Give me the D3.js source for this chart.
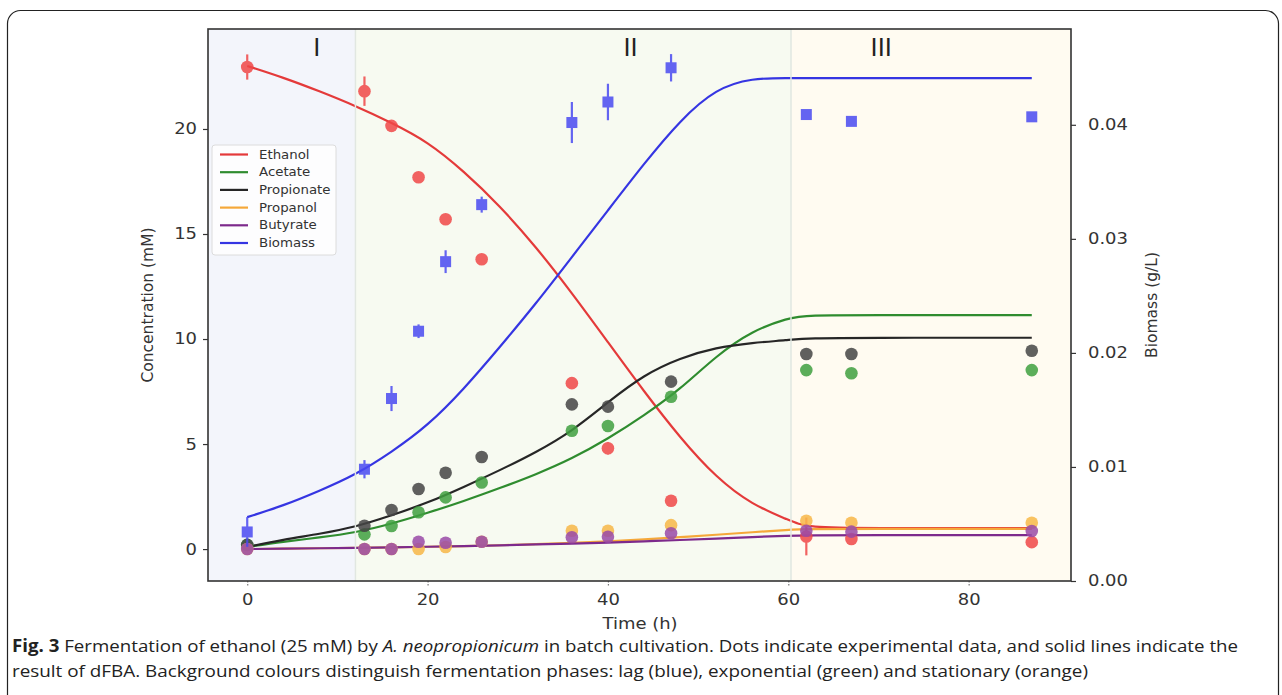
<!DOCTYPE html>
<html>
<head>
<meta charset="utf-8">
<title>Fermentation of ethanol by A. neopropionicum</title>
<script src="https://cdn.jsdelivr.net/npm/d3@7"></script>
<style>
  body { margin: 0; background: #fff; }
  svg text { font-family: "DejaVu Sans", sans-serif; fill: #333; }
</style>
</head>
<body>
<script>
// ---- experimental points (h, mM / g/L) ----
var hours = [0, 13, 16, 19, 22, 26, 36, 40, 47, 62, 67, 87];
var ethanol    = [22.95, 21.8, 20.15, 17.7, 15.7, 13.8, 7.9, 4.8, 2.3, 0.6, 0.48, 0.33];
var ethanolErr = [0.6, 0.7, 0.25, 0.2, 0.2, 0.2, 0.25, 0.3, 0.25, 0.9, 0.15, 0.15];
var acetate    = [0.2, 0.7, 1.1, 1.75, 2.46, 3.17, 5.63, 5.86, 7.25, 8.52, 8.37, 8.52];
var acetateErr = [0, 0, 0, 0, 0, 0, 0, 0, 0.3, 0, 0, 0];
var propionate    = [0.2, 1.11, 1.86, 2.86, 3.63, 4.38, 6.89, 6.78, 7.97, 9.29, 9.29, 9.44];
var propionateErr = [0, 0, 0, 0, 0, 0, 0, 0.25, 0.2, 0, 0, 0];
var propanol   = [0.0, 0.0, 0.0, 0.0, 0.1, 0.35, 0.87, 0.87, 1.14, 1.35, 1.25, 1.25];
var butyrate   = [0.0, 0.0, 0.0, 0.35, 0.3, 0.35, 0.56, 0.59, 0.75, 0.87, 0.83, 0.86];
var biomass    = [0.0043, 0.0098, 0.0160, 0.0219, 0.0280, 0.0330, 0.0402, 0.0420, 0.0450, 0.0409, 0.0403, 0.0407];
var biomassErr = [0.0013, 0.0008, 0.0011, 0.0006, 0.0010, 0.0007, 0.0018, 0.0016, 0.0012, 0.0004, 0.0002, 0.0002];

// ---- dFBA result ----
var modelHours = [0, 4, 8, 12, 16, 20, 24, 28, 32, 36, 40, 44, 48, 52, 56, 60, 62, 70, 80, 87];
var ethanolModel    = [23.0, 22.45, 21.8, 21.1, 20.3, 19.4, 18.0, 16.35, 14.4, 12.2, 9.85, 7.5, 5.3, 3.4, 2.1, 1.4, 1.0, 1.0, 1.0, 1.0];
var acetateModel    = [0.1, 0.35, 0.55, 0.78, 1.2, 1.72, 2.28, 2.9, 3.55, 4.3, 5.25, 6.35, 7.6, 9.2, 10.4, 11.0, 11.14, 11.14, 11.14, 11.14];
var propionateModel = [0.1, 0.45, 0.72, 1.05, 1.6, 2.2, 2.95, 3.75, 4.6, 5.6, 7.0, 8.3, 9.1, 9.6, 9.82, 9.95, 10.05, 10.06, 10.06, 10.06];
var propanolModel   = [0, 0.02, 0.04, 0.06, 0.08, 0.11, 0.14, 0.18, 0.23, 0.29, 0.36, 0.46, 0.57, 0.68, 0.8, 0.92, 0.96, 0.96, 0.96, 0.96];
var butyrateModel   = [0, 0.02, 0.04, 0.06, 0.08, 0.11, 0.14, 0.18, 0.22, 0.26, 0.31, 0.37, 0.43, 0.5, 0.57, 0.64, 0.66, 0.66, 0.66, 0.66];
var biomassModel    = [0.0056, 0.0066, 0.0079, 0.0093, 0.0113, 0.0136, 0.0168, 0.0205, 0.0243, 0.0284, 0.0325, 0.0366, 0.0404, 0.0432, 0.0441, 0.0441, 0.0441, 0.0441, 0.0441, 0.0441];

// ---- phases ----
var phaseNames = ["I", "II", "III"];
var phaseEdges = [12, 60.3];       // h
var phaseLabelAt = [7.7, 42.5, 70.3];

var xTicks = [0, 20, 40, 60, 80];
var yTicks = [0, 5, 10, 15, 20];
var y2Ticks = [0, 0.01, 0.02, 0.03, 0.04];

var names = ["Ethanol", "Acetate", "Propionate", "Propanol", "Butyrate", "Biomass"];

// ---- drawing ----
var W = 1282, H = 695;
var SX = 1.16;   // the source figure is stretched a little horizontally

var svg = d3.select("body").append("svg")
    .attr("width", W)
    .attr("height", H);

var x  = d3.scaleLinear().domain([-4.35, 91.35]).range([208, 1071]);
var y  = d3.scaleLinear().domain([-1.52, 24.76]).range([581, 29]);
var y2 = d3.scaleLinear().domain([0, 0.0484]).range([581, 29]);

var plotL = x.range()[0], plotR = x.range()[1], plotT = y.range()[1], plotB = y.range()[0];

// outer frame of the figure
svg.append("rect")
    .attr("x", 7.5).attr("y", 10.5)
    .attr("width", 1271).attr("height", 720)
    .attr("rx", 13)
    .attr("fill", "none")
    .attr("stroke", "#222")
    .attr("stroke-width", 1.2);

// phase backgrounds
var phaseFill = ["#f3f5fb", "#f7faf1", "#fffbf1"];
var bounds = [plotL, x(phaseEdges[0]), x(phaseEdges[1]), plotR];
phaseNames.forEach(function(p, i) {
    svg.append("rect")
        .attr("x", bounds[i]).attr("y", plotT)
        .attr("width", bounds[i + 1] - bounds[i])
        .attr("height", plotB - plotT)
        .attr("fill", phaseFill[i]);
});

var series = [
    { obs: ethanol,    err: ethanolErr,    model: ethanolModel,    line: "#e43a3a", dot: "#f04848", y: y },
    { obs: acetate,    err: acetateErr,    model: acetateModel,    line: "#2f8c2f", dot: "#40a040", y: y },
    { obs: propionate, err: propionateErr, model: propionateModel, line: "#262626", dot: "#454545", y: y },
    { obs: propanol,   err: null,          model: propanolModel,   line: "#f5a83a", dot: "#f8b848", y: y },
    { obs: butyrate,   err: null,          model: butyrateModel,   line: "#7d2a8c", dot: "#9a4aa8", y: y },
    { obs: biomass,    err: biomassErr,    model: biomassModel,    line: "#3535e2", dot: "#4a4af2", y: y2 }
];

// model lines
series.forEach(function(s) {
    var line = d3.line()
        .x(function(d, i) { return x(modelHours[i]); })
        .y(function(d) { return s.y(d); })
        .curve(d3.curveBasis);
    svg.append("path")
        .datum(s.model)
        .attr("d", line)
        .attr("fill", "none")
        .attr("stroke", s.line)
        .attr("stroke-width", 2.2);
});

// error bars + markers
series.forEach(function(s, k) {
    var g = svg.append("g").attr("opacity", 0.85);
    if (s.err) {
        g.selectAll("line.err")
            .data(s.obs)
            .enter()
            .append("line")
            .filter(function(d, i) { return s.err[i] > 0; })
            .attr("x1", function(d, i) { return x(hours[i]); })
            .attr("x2", function(d, i) { return x(hours[i]); })
            .attr("y1", function(d, i) { return s.y(d + s.err[i]); })
            .attr("y2", function(d, i) { return s.y(d - s.err[i]); })
            .attr("stroke", s.dot)
            .attr("stroke-width", 2.2);
    }
    if (k == 5) {
        g.selectAll("rect")
            .data(s.obs)
            .enter()
            .append("rect")
            .attr("x", function(d, i) { return x(hours[i]) - 5.5; })
            .attr("y", function(d) { return s.y(d) - 5.5; })
            .attr("width", 11).attr("height", 11)
            .attr("fill", s.dot);
    } else {
        g.selectAll("circle")
            .data(s.obs)
            .enter()
            .append("circle")
            .attr("cx", function(d, i) { return x(hours[i]); })
            .attr("cy", function(d) { return s.y(d); })
            .attr("r", 6.3)
            .attr("fill", s.dot);
    }
});

// phase borders sit on top of the curves
phaseEdges.forEach(function(e) {
    svg.append("line")
        .attr("x1", x(e)).attr("x2", x(e))
        .attr("y1", plotT).attr("y2", plotB)
        .attr("stroke", "#e1e7e1")
        .attr("stroke-width", 1.5);
});

// phase labels
phaseNames.forEach(function(p, i) {
    svg.append("text")
        .attr("x", x(phaseLabelAt[i]))
        .attr("y", 56)
        .attr("text-anchor", "middle")
        .style("font-size", "24px")
        .style("fill", "#222")
        .text(p);
});

// axes
var xAxis = svg.append("g")
    .attr("transform", "translate(0," + plotB + ")")
    .call(d3.axisBottom(x).tickValues(xTicks).tickSize(5).tickPadding(8).tickFormat(d3.format("d")));
var yAxis = svg.append("g")
    .attr("transform", "translate(" + plotL + ",0)")
    .call(d3.axisLeft(y).tickValues(yTicks).tickSize(5).tickPadding(6).tickFormat(d3.format("d")));
var y2Axis = svg.append("g")
    .attr("transform", "translate(" + plotR + ",0)")
    .call(d3.axisRight(y2).tickValues(y2Ticks).tickSize(5).tickPadding(8).tickFormat(d3.format(".2f")));

[xAxis, yAxis, y2Axis].forEach(function(a) {
    a.select(".domain").remove();
    a.selectAll("line").attr("stroke", "#333").attr("stroke-width", 1.2);
    a.selectAll("text")
        .attr("font-family", null)
        .attr("font-size", null)
        .style("font-size", "15.5px")
        .style("fill", "#333");
});
xAxis.selectAll("line").attr("stroke", "#777").attr("stroke-dasharray", "1.5,1.5");
yAxis.selectAll("text").attr("x", -11 / SX).attr("transform", "scale(" + SX + ",1)");
y2Axis.selectAll("text").attr("x", 17 / SX).attr("transform", "scale(" + SX + ",1)");
xAxis.selectAll("text").attr("transform", "scale(" + SX + ",1)");

// plot frame
svg.append("rect")
    .attr("x", plotL).attr("y", plotT)
    .attr("width", plotR - plotL).attr("height", plotB - plotT)
    .attr("fill", "none")
    .attr("stroke", "#333")
    .attr("stroke-width", 1.6);

// axis titles
svg.append("text")
    .attr("transform", "translate(640,629) scale(" + SX + ",1)")
    .attr("text-anchor", "middle")
    .style("font-size", "15.5px")
    .text("Time (h)");
svg.append("text")
    .attr("transform", "translate(153,305) rotate(-90)")
    .attr("text-anchor", "middle")
    .style("font-size", "15.5px")
    .text("Concentration (mM)");
svg.append("text")
    .attr("transform", "translate(1157,305) rotate(-90)")
    .attr("text-anchor", "middle")
    .style("font-size", "15.5px")
    .text("Biomass (g/L)");

// legend
var lg = svg.append("g").attr("transform", "translate(212,145)");
lg.append("rect")
    .attr("width", 124).attr("height", 110)
    .attr("rx", 3)
    .attr("fill", "#fff").attr("fill-opacity", 0.8)
    .attr("stroke", "#dcdcdc");
names.forEach(function(n, i) {
    var yy = 9.5 + i * 17.7;
    lg.append("line")
        .attr("x1", 8).attr("x2", 36)
        .attr("y1", yy).attr("y2", yy)
        .attr("stroke", series[i].line)
        .attr("stroke-width", 2.2);
    lg.append("text")
        .attr("transform", "translate(47," + (yy + 4) + ") scale(" + SX + ",1)")
        .style("font-size", "11.5px")
        .text(n);
});

// caption
var cap1 = svg.append("text")
    .attr("x", 12).attr("y", 652)
    .attr("textLength", 1226)
    .attr("lengthAdjust", "spacingAndGlyphs")
    .style("font-family", "'Open Sans', sans-serif")
    .style("font-size", "17px")
    .style("fill", "#222");
cap1.append("tspan").style("font-weight", "bold").style("fill", "#222").text("Fig. 3");
cap1.append("tspan").style("fill", "#222").text("  Fermentation of ethanol (25 mM) by ");
cap1.append("tspan").style("font-style", "italic").style("fill", "#222").text("A. neopropionicum");
cap1.append("tspan").style("fill", "#222").text(" in batch cultivation. Dots indicate experimental data, and solid lines indicate the");

svg.append("text")
    .attr("x", 12).attr("y", 677)
    .attr("textLength", 1076)
    .attr("lengthAdjust", "spacingAndGlyphs")
    .style("font-family", "'Open Sans', sans-serif")
    .style("font-size", "17px")
    .style("fill", "#222")
    .text("result of dFBA. Background colours distinguish fermentation phases: lag (blue), exponential (green) and stationary (orange)");
</script>
</body>
</html>
